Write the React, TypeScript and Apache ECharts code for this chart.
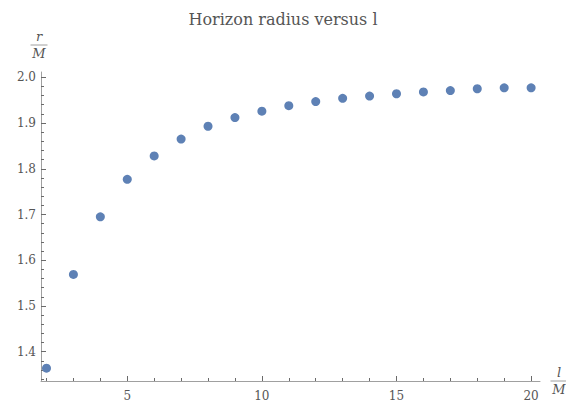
import React, { useEffect, useRef } from "react";
import * as echarts from "echarts";

const titleText = "Horizon radius versus l";
const lValues = [2, 3, 4, 5, 6, 7, 8, 9, 10, 11, 12, 13, 14, 15, 16, 17, 18, 19, 20];
const rValues = [1.364, 1.569, 1.695, 1.777, 1.828, 1.865, 1.893, 1.912, 1.926, 1.938, 1.947, 1.954, 1.959, 1.964, 1.968, 1.971, 1.975, 1.977, 1.977];
const xMajorTicks = [5, 10, 15, 20];
const xMinorTicks = [2, 3, 4, 6, 7, 8, 9, 11, 12, 13, 14, 16, 17, 18, 19];
const yMajorTicks = [1.4, 1.5, 1.6, 1.7, 1.8, 1.9, 2.0];
const yMinorTicks = [1.34, 1.36, 1.38, 1.42, 1.44, 1.46, 1.48, 1.52, 1.54, 1.56, 1.58, 1.62, 1.64, 1.66, 1.68, 1.72, 1.74, 1.76, 1.78, 1.82, 1.84, 1.86, 1.88, 1.92, 1.94, 1.96, 1.98];

const X_MIN = 1.796;
const X_MAX = 20.33;
const Y_MIN = 1.336;
const Y_MAX = 2.0116;

const AXIS_COLOR = "#a0a0a0";
const TICK_COLOR = "#6a6a6a";
const TEXT_COLOR = "#555555";
const FONT = "DejaVu Serif";

export default function App() {
  const ref = useRef<HTMLDivElement>(null);
  useEffect(() => {
    if (!ref.current) return;
    const chart = echarts.init(ref.current, null, { renderer: "svg" });
    const baseX = {
      type: "value",
      min: X_MIN,
      max: X_MAX,
      position: "bottom",
      splitLine: { show: false },
      axisLine: { show: true, lineStyle: { color: AXIS_COLOR, width: 1 } },
    };
    const baseY = {
      type: "value",
      min: Y_MIN,
      max: Y_MAX,
      position: "left",
      splitLine: { show: false },
      axisLine: { show: true, lineStyle: { color: AXIS_COLOR, width: 1 } },
    };
    const fraction = (cx: number, cy: number, num: string) => ({
      type: "group",
      children: [
        {
          type: "text",
          x: cx,
          y: cy - 2,
          style: {
            text: num,
            fontFamily: FONT,
            fontStyle: "italic",
            fontSize: 13,
            fill: TEXT_COLOR,
            textAlign: "center",
            textVerticalAlign: "bottom",
          },
        },
        {
          type: "line",
          shape: { x1: cx - 8.5, y1: cy, x2: cx + 8.5, y2: cy },
          style: { stroke: AXIS_COLOR, lineWidth: 1 },
        },
        {
          type: "text",
          x: cx,
          y: cy + 2,
          style: {
            text: "M",
            fontFamily: FONT,
            fontStyle: "italic",
            fontSize: 13,
            fill: TEXT_COLOR,
            textAlign: "center",
            textVerticalAlign: "top",
          },
        },
      ],
    });
    chart.setOption({
      animation: false,
      backgroundColor: "#ffffff",
      title: {
        text: titleText,
        left: "center",
        top: 6,
        textStyle: { fontFamily: FONT, fontSize: 16, fontWeight: "normal", color: TEXT_COLOR },
      },
      grid: { left: 41, right: 26, top: 72, bottom: 25, containLabel: false },
      xAxis: [
        {
          ...baseX,
          axisTick: { show: true, inside: true, length: 5, customValues: xMajorTicks, lineStyle: { color: TICK_COLOR, width: 1 } },
          axisLabel: {
            show: true,
            customValues: xMajorTicks,
            margin: 9,
            fontFamily: FONT,
            fontSize: 12,
            color: TEXT_COLOR,
          },
        },
        {
          ...baseX,
          axisLine: { show: false },
          axisTick: { show: true, inside: true, length: 3, customValues: xMinorTicks, lineStyle: { color: TICK_COLOR, width: 1 } },
          axisLabel: { show: false },
        },
      ],
      yAxis: [
        {
          ...baseY,
          axisTick: { show: true, inside: true, length: 5, customValues: yMajorTicks, lineStyle: { color: TICK_COLOR, width: 1 } },
          axisLabel: {
            show: true,
            customValues: yMajorTicks,
            margin: 5,
            fontFamily: FONT,
            fontSize: 12,
            color: TEXT_COLOR,
            formatter: (v: number) => v.toFixed(1),
          },
        },
        {
          ...baseY,
          offset: 0,
          axisLine: { show: false },
          axisTick: { show: true, inside: true, length: 3, customValues: yMinorTicks, lineStyle: { color: TICK_COLOR, width: 1 } },
          axisLabel: { show: false },
        },
      ],
      graphic: [fraction(39, 45, "r"), fraction(559, 381, "l")],
      series: [
        {
          type: "scatter",
          xAxisIndex: 0,
          yAxisIndex: 0,
          symbol: "circle",
          symbolSize: 9,
          itemStyle: { color: "#5E81B5", opacity: 1 },
          data: lValues.map((l, i) => [l, rValues[i]]),
        },
      ],
    });
    return () => chart.dispose();
  }, []);
  return <div ref={ref} style={{ width: 566, height: 406, position: "fixed", left: 0, top: 0 }} />;
}
